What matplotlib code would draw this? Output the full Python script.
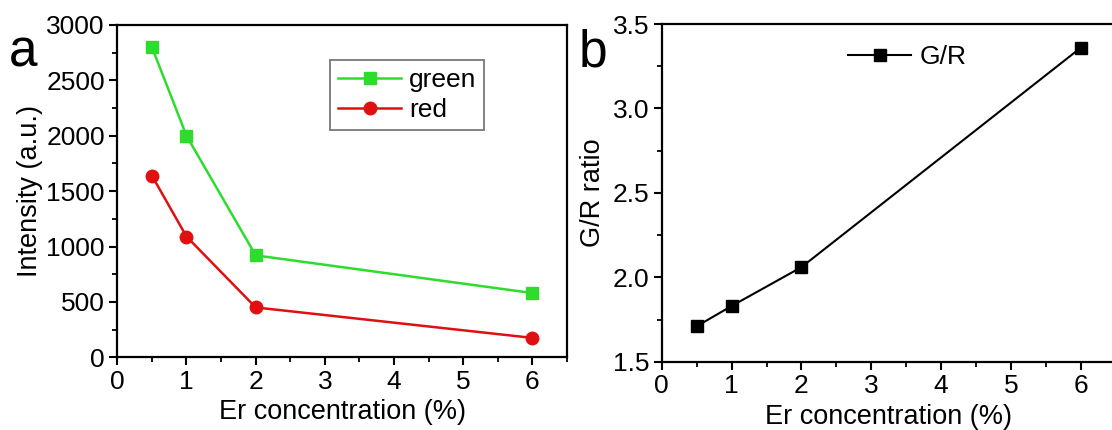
import numpy as np
import matplotlib.pyplot as plt
from matplotlib.ticker import MultipleLocator

plt.rcParams['font.family'] = ['Liberation Sans', 'DejaVu Sans']

er = [0.5, 1, 2, 6]
green = [2800, 2000, 920, 580]
red = [1640, 1090, 450, 175]
gr_ratio = [1.71, 1.83, 2.06, 3.36]

fig = plt.figure(figsize=(11.12, 4.3), dpi=100)
ax1 = fig.add_axes([0.1055, 0.1691, 0.4044, 0.7728])
ax2 = fig.add_axes([0.5951, 0.1588, 0.4083, 0.7853])

fs = 19
lfs = 19.5
for ax in (ax1, ax2):
    for s in ax.spines.values():
        s.set_linewidth(1.6)
    ax.tick_params(which='major', direction='out', length=6, width=1.5,
                   labelsize=fs, pad=3)
    ax.tick_params(which='minor', direction='out', length=3.5, width=1.3)
    ax.set_xlim(0, 6.5)
    ax.set_xticks([0, 1, 2, 3, 4, 5, 6])
    ax.xaxis.set_minor_locator(MultipleLocator(0.5))
    ax.set_xlabel("Er concentration (%)", fontsize=lfs, labelpad=4)

# panel a
ax1.plot(er, green, '-s', color='#2edc2e', lw=1.8, ms=8, label='green')
ax1.plot(er, red, '-o', color='#e01010', lw=1.8, ms=9, label='red')
ax1.set_ylim(0, 3000)
ax1.yaxis.set_major_locator(MultipleLocator(500))
ax1.yaxis.set_minor_locator(MultipleLocator(250))
ax1.set_ylabel("Intensity (a.u.)", fontsize=lfs, labelpad=2)
leg = ax1.legend(loc='upper left', bbox_to_anchor=(0.473, 0.895), fontsize=fs,
                 frameon=True, fancybox=False, edgecolor='#555555',
                 handlelength=2.4, handletextpad=0.3, borderpad=0.3,
                 labelspacing=0.25, borderaxespad=0)
leg.get_frame().set_linewidth(1.3)
fig.text(0.008, 0.845, "a", fontsize=37)

# panel b
ax2.plot(er, gr_ratio, '-s', color='black', lw=1.5, ms=8, label='G/R')
ax2.set_ylim(1.5, 3.5)
ax2.yaxis.set_major_locator(MultipleLocator(0.5))
ax2.yaxis.set_minor_locator(MultipleLocator(0.25))
ax2.yaxis.set_major_formatter(plt.FormatStrFormatter('%.1f'))
ax2.set_ylabel("G/R ratio", fontsize=lfs, labelpad=5)
ax2.legend(loc='center left', bbox_to_anchor=(0.41, 0.902), fontsize=fs,
           frameon=False, handlelength=2.4, handletextpad=0.3,
           borderpad=0, borderaxespad=0)
fig.text(0.520, 0.845, "b", fontsize=37)

fig.savefig("out.png", dpi=100)
